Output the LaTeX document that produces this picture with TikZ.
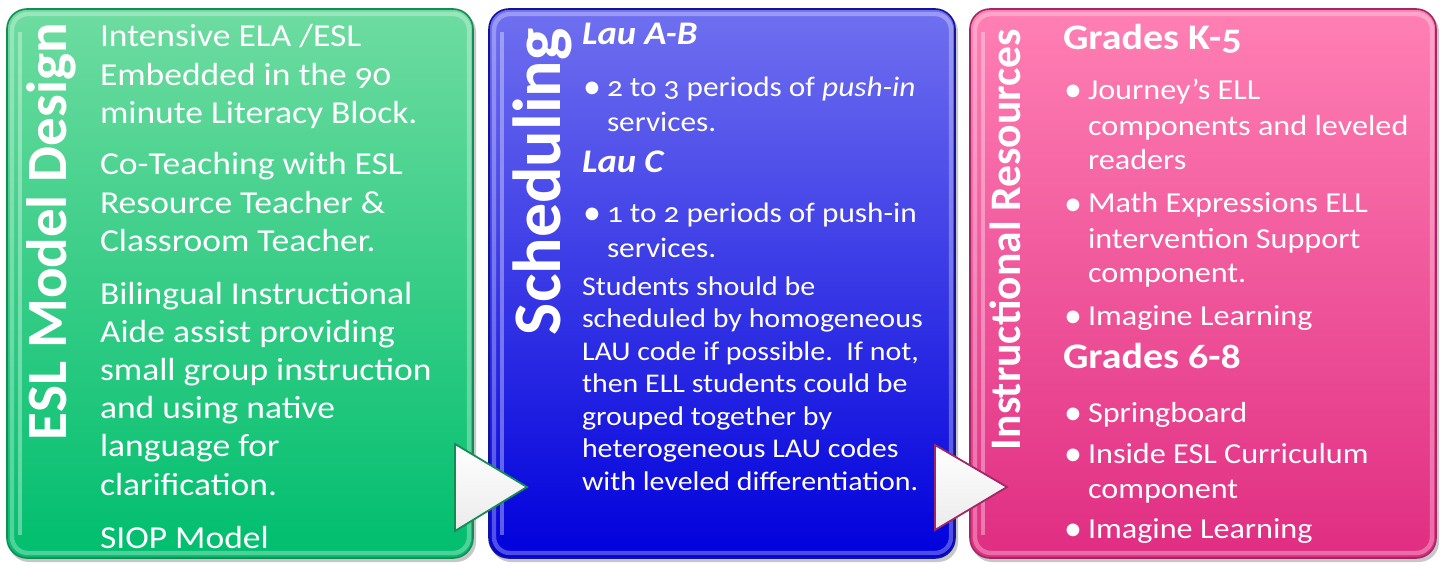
\documentclass[tikz,border=0pt]{standalone}
\usepackage{fontspec}
\setmainfont{Carlito}[Numbers=OldStyle, FakeStretch=1.11]
\newfontfamily\titlefont{Carlito}[Numbers=OldStyle]
\newcommand\mylines[1]{\begin{tabular}[t]{@{}l@{}}#1\end{tabular}}
\definecolor{gTop}{RGB}{110,220,160}
\definecolor{gMid}{RGB}{40,205,130}
\definecolor{gBot}{RGB}{0,190,110}
\definecolor{gEdge}{RGB}{20,140,85}
\definecolor{bTop}{RGB}{112,112,240}
\definecolor{bMid}{RGB}{45,45,238}
\definecolor{bBot}{RGB}{0,0,220}
\definecolor{bEdge}{RGB}{20,20,150}
\definecolor{pTop}{RGB}{255,128,180}
\definecolor{pMid}{RGB}{240,80,150}
\definecolor{pBot}{RGB}{224,45,130}
\definecolor{pEdge}{RGB}{160,40,100}
\begin{document}
\begin{tikzpicture}[x=0.5pt,y=-0.5pt,
  every node/.style={inner sep=0pt, outer sep=0pt, text=white},
  panelshadow/.style={fill=black, opacity=0.22, rounded corners=10pt},
  panelfill/.style={rounded corners=10pt, shading=axis},
  paneledge/.style={draw, line width=0.8pt, rounded corners=10pt},
  panelshine/.style={draw=white, opacity=0.3, line width=2.2pt, rounded corners=8pt},
  stripe/.style={draw=white, opacity=0.35, line width=1.8pt},
  gtxt/.style={anchor=base west, font=\fontsize{16}{19.1}\selectfont},
  btxt/.style={anchor=base west, font=\fontsize{14.1}{17.5}\selectfont},
  stxt/.style={anchor=base west, font=\fontsize{13.5}{16.25}\selectfont},
  ptxt/.style={anchor=base west, font=\fontsize{14.5}{17.5}\selectfont},
  bul/.style={anchor=base west, font=\titlefont\fontsize{18}{18}\selectfont},
  head/.style={anchor=base west, font=\fontsize{18}{20}\selectfont\bfseries},
  lau/.style={anchor=base west, font=\fontsize{16.5}{18}\selectfont\bfseries\itshape},
  title/.style={anchor=base west, rotate=90},
  tri/.style={line width=0.9pt, line join=miter, top color=white, bottom color=black!8}
]
\useasboundingbox[fill=white] (0,0) rectangle (1440,567);

% ---------- panels ----------
\foreach \xl/\xr/\ct/\cm/\cb/\ce in {7/473/gTop/gMid/gBot/gEdge, 489/955/bTop/bMid/bBot/bEdge, 970/1436/pTop/pMid/pBot/pEdge}{
  \path[panelshadow] (\xl+2,12) rectangle (\xr+3,562);
  \path[panelfill, top color=\ct, middle color=\cm, bottom color=\cb] (\xl,9) rectangle (\xr,558);
  \path[paneledge, draw=\ce] (\xl,9) rectangle (\xr,558);
  \path[panelshine] (\xl+5,14) rectangle (\xr-4,553);
  \path[stripe] (\xl+13,32) -- (\xl+13,535);
}

% ---------- green panel ----------
\node[title, font=\titlefont\fontsize{28.5}{30}\selectfont\bfseries] (gt) at (66,440) {ESL Model Design};
\node[gtxt] (g1) at (100,47) {\mylines{Intensive ELA /ESL\\Embedded in the 90\\minute Literacy Block.}};
\node[gtxt] (g2) at (100,175) {\mylines{Co-Teaching with ESL\\Resource Teacher \&\\Classroom Teacher.}};
\node[gtxt] (g3) at (100,304) {\mylines{Bilingual Instructional\\Aide assist providing\\small group instruction\\and using native\\language for\\clarification.}};
\node[gtxt] (g4) at (100,548) {SIOP Model};

% ---------- blue panel ----------
\node[title, font=\titlefont\fontsize{34}{36}\selectfont\bfseries] (bt) at (560,335) {Scheduling};
\node[lau] (b1) at (582,45) {Lau A-B};
\node[bul] (b2d) at (583,99) {•};
\node[btxt] (b2) at (607,97) {\mylines{2 to 3 periods of \textit{push-in}\\services.}};
\node[lau] (b3) at (582,172) {Lau C};
\node[bul] (b4d) at (583,224) {•};
\node[btxt] (b4) at (607,222) {\mylines{1 to 2 periods of push-in\\services.}};
\node[stxt] (b5) at (582,295) {\mylines{Students should be\\scheduled by homogeneous\\LAU code if possible.\ \ If not,\\then ELL students could be\\grouped together by\\heterogeneous LAU codes\\with leveled differentiation.}};

% ---------- pink panel ----------
\node[title, font=\titlefont\fontsize{21.8}{23}\selectfont\bfseries] (pt) at (1020,450) {Instructional Resources};
\node[head] (p1) at (1063,50) {Grades K-5};
\node[bul] (p2d) at (1064,102) {•};
\node[ptxt] (p2) at (1088,100) {\mylines{Journey's ELL\\components and leveled\\readers}};
\node[bul] (p3d) at (1064,215) {•};
\node[ptxt] (p3) at (1088,213) {\mylines{Math Expressions ELL\\intervention Support\\component.}};
\node[bul] (p4d) at (1064,327) {•};
\node[ptxt] (p4) at (1088,325) {Imagine Learning};
\node[head] (p5) at (1063,368) {Grades 6-8};
\node[bul] (p6d) at (1064,424) {•};
\node[ptxt] (p6) at (1088,422) {Springboard};
\node[bul] (p7d) at (1064,465) {•};
\node[ptxt] (p7) at (1088,463) {\mylines{Inside ESL Curriculum\\component}};
\node[bul] (p8d) at (1064,540) {•};
\node[ptxt] (p8) at (1088,538) {Imagine Learning};

% ---------- arrows ----------
\coordinate (a1t) at (455,444); \coordinate (a1p) at (527,487); \coordinate (a1b) at (455,531);
\path[tri, draw=gEdge] (a1t) -- (a1p) -- (a1b) -- cycle;
\coordinate (a2t) at (935,445); \coordinate (a2p) at (1007,487); \coordinate (a2b) at (935,530);
\path[tri, draw=pEdge] (a2t) -- (a2p) -- (a2b) -- cycle;
\end{tikzpicture}
\end{document}
